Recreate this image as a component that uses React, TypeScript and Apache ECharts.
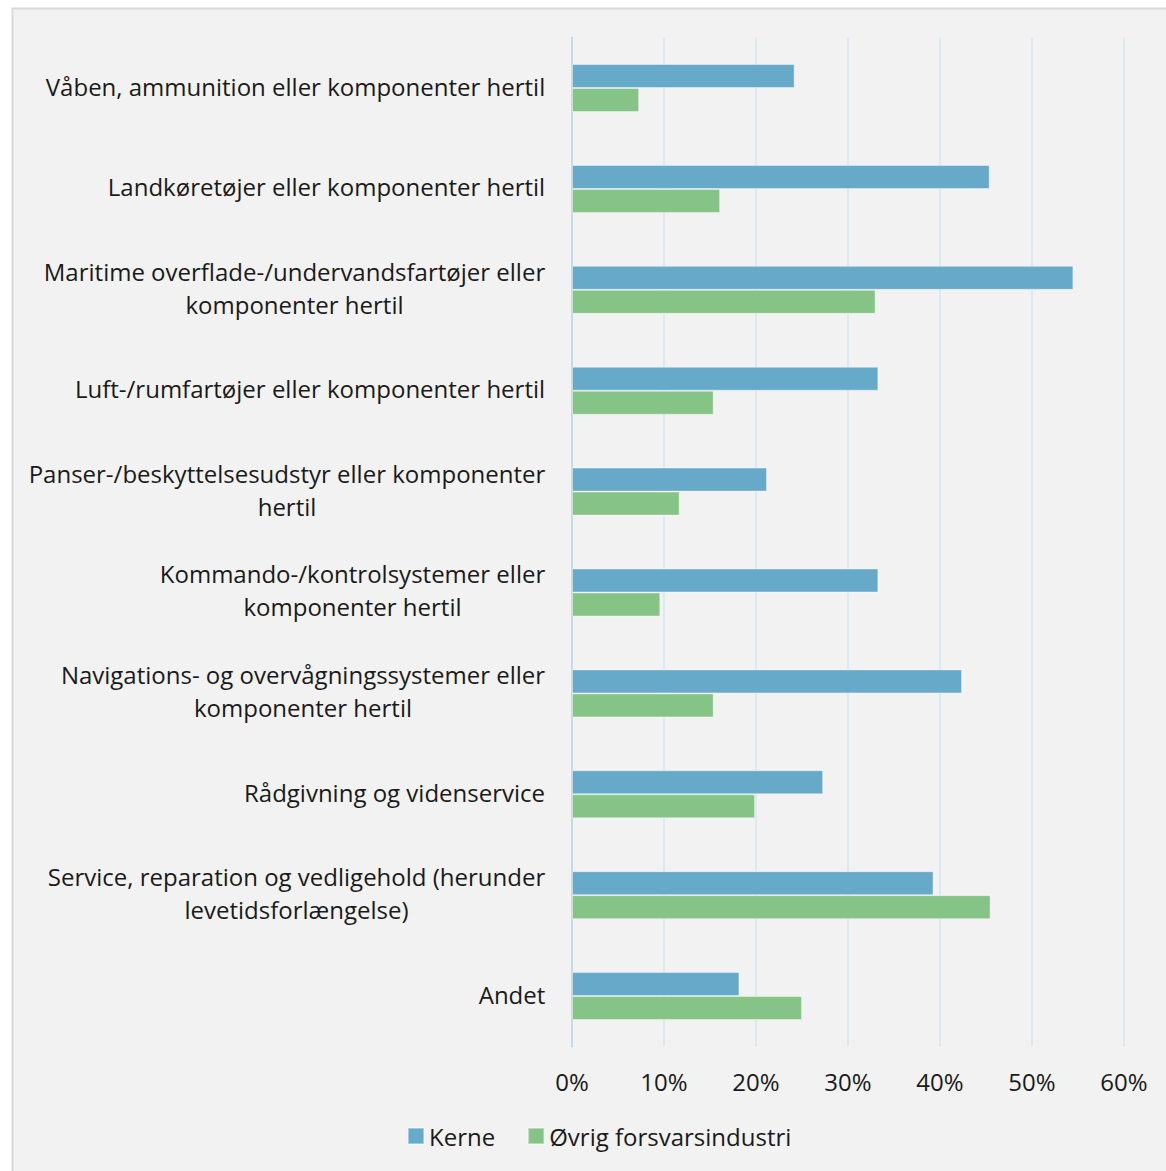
import React, { useEffect, useRef } from "react";
import * as echarts from "echarts";

const categories: string[] = [
  "Våben, ammunition eller komponenter hertil",
  "Landkøretøjer eller komponenter hertil",
  "Maritime overflade-/undervandsfartøjer eller\nkomponenter hertil",
  "Luft-/rumfartøjer eller komponenter hertil",
  "Panser-/beskyttelsesudstyr eller komponenter\nhertil",
  "Kommando-/kontrolsystemer eller\nkomponenter hertil",
  "Navigations- og overvågningssystemer eller\nkomponenter hertil",
  "Rådgivning og videnservice",
  "Service, reparation og vedligehold (herunder\nlevetidsforlængelse)",
  "Andet",
];
const kerne: number[] = [24.2, 45.4, 54.5, 33.3, 21.2, 33.3, 42.4, 27.3, 39.3, 18.2];
const oevrig: number[] = [7.3, 16.1, 33.0, 15.4, 11.7, 9.6, 15.4, 19.9, 45.5, 25.0];
const seriesNames: string[] = ["Kerne", "Øvrig forsvarsindustri"];

const FONT = '"Open Sans", "Noto Sans", sans-serif';
const FS = 24;

export default function App() {
  const ref = useRef<HTMLDivElement>(null);
  useEffect(() => {
    if (!ref.current) return;
    const chart = echarts.init(ref.current, undefined, { renderer: "svg" });

    const ctx = document.createElement("canvas").getContext("2d")!;
    ctx.font = `${FS}px ${FONT}`;
    const rich: any = {};
    categories.forEach((c, i) => {
      const w = Math.max(...c.split("\n").map((l) => ctx.measureText(l).width));
      rich["c" + i] = {
        width: Math.ceil(w) + 1,
        align: "center",
        fontSize: FS,
        fontFamily: FONT,
        color: "#1a1a1a",
        lineHeight: 33,
      };
    });

    chart.setOption({
      animation: false,
      backgroundColor: "#ffffff",
      graphic: [
        {
          type: "rect",
          z: -10,
          shape: { x: 12.5, y: 8.5, width: 1160, height: 1170 },
          style: { fill: "#f2f2f2", stroke: "#d9d9d9", lineWidth: 2 },
          silent: true,
        },
      ],
      legend: {
        left: 402,
        top: 1119,
        itemWidth: 16,
        itemHeight: 16,
        itemGap: 32,
        icon: "rect",
        textStyle: { fontSize: FS, fontFamily: FONT, color: "#1a1a1a", padding: [0, 0, 0, 0] },
        data: seriesNames,
      },
      grid: { left: 572, right: 42, top: 37.6, bottom: 1171 - 1046.5, containLabel: false },
      xAxis: {
        type: "value",
        min: 0,
        max: 60,
        interval: 10,
        axisLine: { show: false },
        axisTick: { show: false },
        splitLine: { show: true, lineStyle: { color: "#dde9f1", width: 2 } },
        axisLabel: {
          formatter: "{value}%",
          fontSize: FS,
          fontFamily: FONT,
          color: "#1a1a1a",
          margin: 23,
        },
      },
      yAxis: {
        type: "category",
        inverse: true,
        data: categories,
        axisLine: { show: true, lineStyle: { color: "#c3dce9", width: 2 } },
        axisTick: { show: false },
        axisLabel: {
          margin: 26,
          fontSize: FS,
          fontFamily: FONT,
          color: "#1a1a1a",
          lineHeight: 33,
          padding: [0, 0, 4, 0],
          formatter: (v: string) => {
            const i = categories.indexOf(v);
            return v
              .split("\n")
              .map((l) => `{c${i}|${l}}`)
              .join("\n");
          },
          rich,
        },
      },
      series: [
        {
          name: seriesNames[0],
          type: "bar",
          data: kerne,
          barWidth: 24,
          barGap: "0%",
          itemStyle: { color: "#67a9c9", borderColor: "rgba(255,255,255,0.4)", borderWidth: 1 },
        },
        {
          name: seriesNames[1],
          type: "bar",
          data: oevrig,
          barWidth: 24,
          barGap: "0%",
          itemStyle: { color: "#86c386", borderColor: "rgba(255,255,255,0.4)", borderWidth: 1 },
        },
      ],
    });
    return () => chart.dispose();
  }, []);
  return (
    <div
      ref={ref}
      style={{ position: "fixed", left: 0, top: 0, width: 1166, height: 1171 }}
    />
  );
}
